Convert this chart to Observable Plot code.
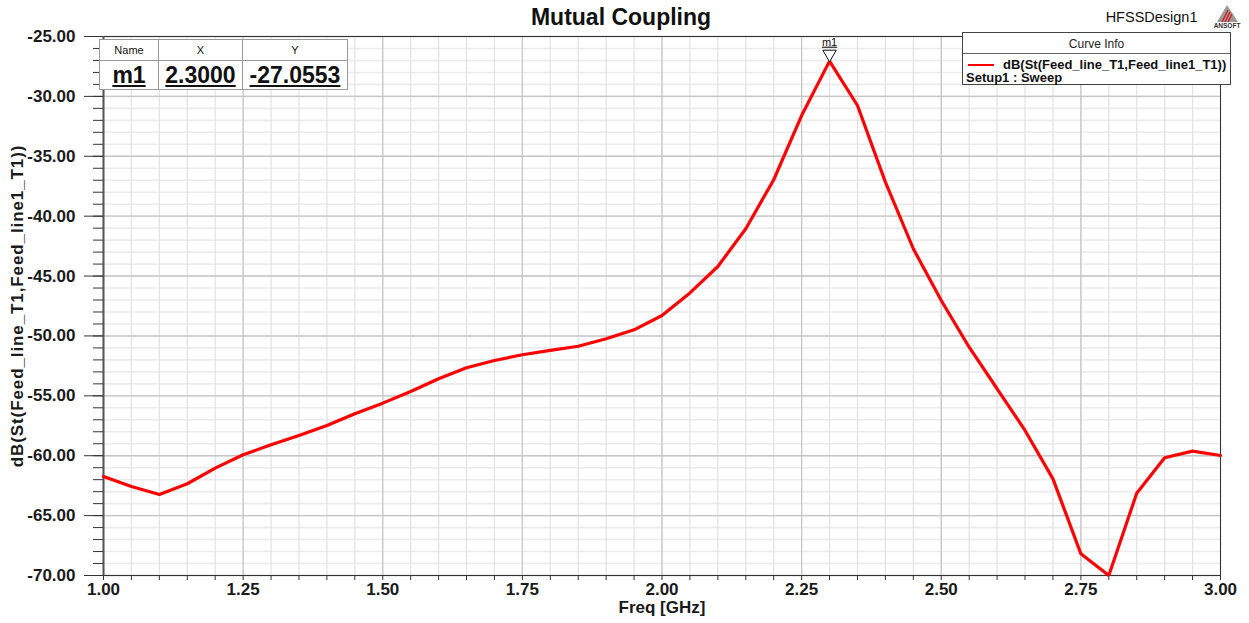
<!DOCTYPE html>
<html>
<head>
<meta charset="utf-8">
<script src="https://cdn.jsdelivr.net/npm/d3@7"></script>
<script src="https://cdn.jsdelivr.net/npm/@observablehq/plot@0.6"></script>
<style>
  html, body { margin: 0; padding: 0; background: #fff; }
  #wrap { position: relative; width: 1249px; height: 623px; font-family: "Liberation Sans", Arial, sans-serif; }
  #mtable { position: absolute; left: 99px; top: 39px; border-collapse: collapse; background: #fff; border: 1px solid #555; }
  #mtable td { border: 1px solid #999; padding: 0; text-align: center; color: #111; }
  #mtable tr.h td { height: 20px; font-size: 11px; }
  #mtable tr.d td { height: 28px; font-size: 23px; font-weight: bold; text-decoration: underline; }
  #legend { position: absolute; left: 962px; top: 32px; width: 269px; height: 53px; border: 1px solid #444; background: #fff; box-sizing: border-box; }
  #legend .hd { height: 20px; line-height: 22px; text-align: center; font-size: 12px; border-bottom: 1px solid #666; color: #222; }
  #legend .row { position: relative; height: 14px; font-size: 13px; font-weight: bold; color: #111; }
  #logo { position: absolute; left: 1211px; top: 3px; }
</style>
</head>
<body>
<div id="wrap"></div>
<script>
// ---- data ----
const freq = [1.00, 1.05, 1.10, 1.15, 1.20, 1.25, 1.30, 1.35, 1.40, 1.45,
              1.50, 1.55, 1.60, 1.65, 1.70, 1.75, 1.80, 1.85, 1.90, 1.95,
              2.00, 2.05, 2.10, 2.15, 2.20, 2.25, 2.30, 2.35, 2.40, 2.45,
              2.50, 2.55, 2.60, 2.65, 2.70, 2.75, 2.80, 2.85, 2.90, 2.95, 3.00];
const dB = [-61.73, -62.57, -63.24, -62.34, -61.04, -59.92, -59.09, -58.31, -57.48, -56.50,
            -55.61, -54.64, -53.58, -52.66, -52.05, -51.57, -51.21, -50.86, -50.24, -49.49,
            -48.29, -46.41, -44.20, -41.05, -36.96, -31.60, -27.0553, -30.76, -37.16, -42.72,
            -47.04, -50.94, -54.41, -57.89, -61.93, -68.19, -70.00, -63.13, -60.17, -59.62, -59.98];
const xMajorTicks = [1.00, 1.25, 1.50, 1.75, 2.00, 2.25, 2.50, 2.75, 3.00];
const xMinorTicks = [1.00, 1.05, 1.10, 1.15, 1.20, 1.25, 1.30, 1.35, 1.40, 1.45, 1.50, 1.55, 1.60, 1.65, 1.70, 1.75, 1.80, 1.85, 1.90, 1.95,
                     2.00, 2.05, 2.10, 2.15, 2.20, 2.25, 2.30, 2.35, 2.40, 2.45, 2.50, 2.55, 2.60, 2.65, 2.70, 2.75, 2.80, 2.85, 2.90, 2.95, 3.00];
const yMajorTicks = [-70, -65, -60, -55, -50, -45, -40, -35, -30, -25];
const yMinorTicks = [-70, -69, -68, -67, -66, -65, -64, -63, -62, -61, -60, -59, -58, -57, -56, -55, -54, -53, -52, -51, -50,
                     -49, -48, -47, -46, -45, -44, -43, -42, -41, -40, -39, -38, -37, -36, -35, -34, -33, -32, -31, -30,
                     -29, -28, -27, -26, -25];
const markerName = ["m1"];
const markerX = [2.3000];
const markerY = [-27.0553];
const title = "Mutual Coupling";
const design = "HFSSDesign1";
const xTitle = "Freq [GHz]";
const yTitle = "dB(St(Feed_line_T1,Feed_line1_T1))";
const legendCurve = "dB(St(Feed_line_T1,Feed_line1_T1))";
const legendSetup = "Setup1 : Sweep";

const rows = freq.map((f, i) => ({f, v: dB[i]}));
const marker = markerName.map((n, i) => ({n, x: markerX[i], y: markerY[i]}));

const chart = Plot.plot({
  width: 1249, height: 623,
  marginLeft: 103, marginRight: 29, marginTop: 36, marginBottom: 48,
  x: {domain: [1, 3], label: null},
  y: {domain: [-70, -25], label: null},
  style: {fontFamily: '"Liberation Sans", Arial, sans-serif', background: "#fff", overflow: "visible"},
  marks: [
    Plot.gridY(yMinorTicks, {stroke: "#ebebeb", strokeOpacity: 1, strokeWidth: 1.6}),
    Plot.gridX(xMinorTicks, {stroke: "#e2e2e2", strokeOpacity: 1, strokeWidth: 1.2}),
    Plot.gridY(yMajorTicks, {stroke: "#c6c6c6", strokeOpacity: 1, strokeWidth: 1.4}),
    Plot.gridX(xMajorTicks, {stroke: "#c6c6c6", strokeOpacity: 1, strokeWidth: 1.2}),
    Plot.frame({stroke: "#333", strokeWidth: 1}),
    Plot.ruleX([1], {stroke: "#555", strokeWidth: 2}),
    Plot.axisY(yMinorTicks, {tickSize: 10, tickFormat: () => "", stroke: "#333", label: null}),
    Plot.axisY(yMajorTicks, {tickSize: 19, tickFormat: () => "", stroke: "#333", label: null}),
    Plot.axisY(yMajorTicks, {tickSize: 0, tickPadding: 28, tickFormat: d => d.toFixed(2),
      fontSize: 17, fontWeight: "bold", fill: "#1a1a1a", label: null}),
    Plot.axisX(xMinorTicks, {tickSize: 5, tickFormat: () => "", stroke: "#333", label: null}),
    Plot.axisX(xMajorTicks, {tickSize: 0, tickPadding: 7, tickFormat: d => d.toFixed(2),
      fontSize: 17, fontWeight: "bold", fill: "#1a1a1a", label: null}),
    Plot.line(rows, {x: "f", y: "v", stroke: "#ff0000", strokeWidth: 3.2, strokeLinejoin: "miter"}),
    Plot.dot(marker, {x: "x", y: "y", symbol: "triangle", rotate: 180, r: 5, dy: -7,
      stroke: "#111", fill: "#fff", strokeWidth: 1}),
    Plot.text(marker, {x: "x", y: "y", text: "n", dy: -19, fontSize: 11, fill: "#111", className: "mlabel"}),
    Plot.text([title], {frameAnchor: "top", text: d => d, lineAnchor: "middle", dx: -41, dy: -19, fontSize: 23, fontWeight: "bold", fill: "#111"}),
    Plot.text([design], {frameAnchor: "top-right", text: d => d, textAnchor: "end", lineAnchor: "middle", dx: -23, dy: -19, fontSize: 14.5, fill: "#111"}),
    Plot.text([xTitle], {frameAnchor: "bottom", text: d => d, lineAnchor: "middle", dy: 32, fontSize: 17, fontWeight: "bold", fill: "#1a1a1a"}),
    Plot.text([yTitle], {frameAnchor: "left", text: d => d, textAnchor: "middle", lineAnchor: "middle", rotate: -90, dx: -86, fontSize: 17, fontWeight: "bold", fill: "#1a1a1a", className: "ytitle"})
  ]
});

d3.select(chart).selectAll(".mlabel text").attr("text-decoration", "underline");
d3.select(chart).selectAll(".ytitle text").style("letter-spacing", "0.9px");

const wrap = document.getElementById("wrap");
wrap.appendChild(chart);

// marker table
const tbl = document.createElement("table");
tbl.id = "mtable";
tbl.innerHTML = `<tr class="h"><td style="width:58px">Name</td><td style="width:83px">X</td><td style="width:104px">Y</td></tr>` +
  marker.map(m => `<tr class="d"><td>${m.n}</td><td>${m.x.toFixed(4)}</td><td>${m.y.toFixed(4)}</td></tr>`).join("");
wrap.appendChild(tbl);

// legend
const lg = document.createElement("div");
lg.id = "legend";
lg.innerHTML = `<div class="hd">Curve Info</div>
  <div class="row" style="margin-top:3px"><span style="position:absolute;left:5px;top:7px;width:26px;height:2px;background:#ff0000"></span><span style="position:absolute;left:40px;top:0">${legendCurve}</span></div>
  <div class="row"><span style="position:absolute;left:3px;top:-1px">${legendSetup}</span></div>`;
wrap.appendChild(lg);

// ANSOFT logo
const logo = document.createElementNS("http://www.w3.org/2000/svg", "svg");
logo.id = "logo";
logo.setAttribute("width", "32"); logo.setAttribute("height", "26");
logo.innerHTML = `<polygon points="16,2 6,19 27,19" fill="#9a9a9a"/>
  <line x1="11" y1="19" x2="17" y2="7" stroke="#e01010" stroke-width="1.3"/>
  <line x1="14" y1="19" x2="19" y2="9" stroke="#e01010" stroke-width="1.3"/>
  <line x1="17" y1="19" x2="21" y2="11" stroke="#e01010" stroke-width="1.3"/>
  <text x="16" y="25" text-anchor="middle" font-size="6.5" font-weight="bold" font-family="Liberation Sans, Arial" fill="#333">ANSOFT</text>`;
wrap.appendChild(logo);
</script>
</body>
</html>
